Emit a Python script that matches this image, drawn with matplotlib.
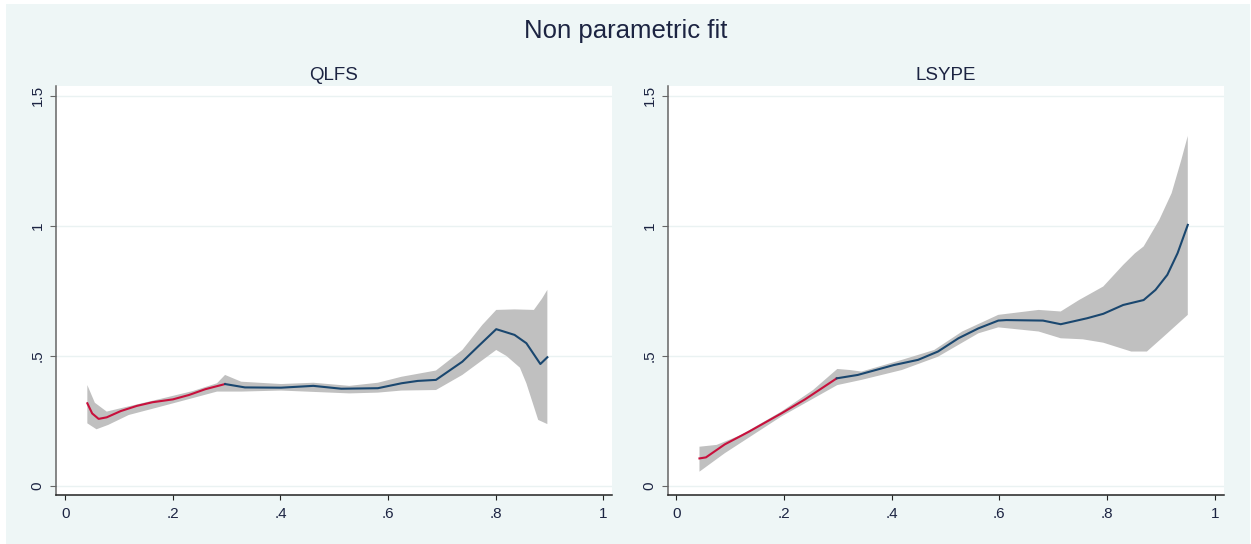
import numpy as np
import matplotlib
matplotlib.use("Agg")
import matplotlib.pyplot as plt
from matplotlib.patches import Rectangle

plt.rcParams['font.family'] = ['Liberation Sans', 'DejaVu Sans']

# QLFS panel
qlfs_x = [0.041, 0.050, 0.062, 0.077, 0.103, 0.133, 0.162, 0.200, 0.230, 0.260, 0.297,
          0.334, 0.401, 0.461, 0.513, 0.581, 0.625, 0.655, 0.689, 0.738, 0.767, 0.801,
          0.835, 0.857, 0.883, 0.896]
qlfs_y = [0.318, 0.279, 0.258, 0.264, 0.288, 0.308, 0.322, 0.333, 0.350, 0.372, 0.392,
          0.379, 0.378, 0.385, 0.374, 0.376, 0.395, 0.404, 0.408, 0.478, 0.536, 0.603,
          0.581, 0.549, 0.469, 0.495]
qlfs_hi_x = [0.041, 0.055, 0.077, 0.103, 0.177, 0.237, 0.282, 0.297, 0.327, 0.401, 0.461,
             0.528, 0.581, 0.625, 0.689, 0.738, 0.775, 0.801, 0.835, 0.871, 0.886, 0.896]
qlfs_hi_y = [0.388, 0.320, 0.286, 0.299, 0.335, 0.365, 0.395, 0.427, 0.401, 0.392, 0.397,
             0.385, 0.397, 0.420, 0.444, 0.523, 0.619, 0.677, 0.679, 0.677, 0.720, 0.754]
qlfs_lo_x = [0.041, 0.058, 0.080, 0.118, 0.177, 0.237, 0.282, 0.327, 0.401, 0.528, 0.581,
             0.625, 0.689, 0.738, 0.801, 0.820, 0.845, 0.857, 0.879, 0.896]
qlfs_lo_y = [0.241, 0.218, 0.235, 0.273, 0.305, 0.338, 0.363, 0.363, 0.367, 0.356, 0.359,
             0.367, 0.369, 0.427, 0.523, 0.500, 0.455, 0.395, 0.254, 0.238]

# LSYPE panel
lsype_x = [0.043, 0.055, 0.090, 0.135, 0.195, 0.239, 0.298, 0.337, 0.404, 0.449, 0.486,
           0.524, 0.561, 0.598, 0.613, 0.681, 0.714, 0.763, 0.793, 0.830, 0.868, 0.890,
           0.912, 0.931, 0.950]
lsype_y = [0.106, 0.110, 0.160, 0.209, 0.279, 0.333, 0.414, 0.427, 0.465, 0.485, 0.517,
           0.568, 0.606, 0.636, 0.638, 0.636, 0.622, 0.645, 0.662, 0.696, 0.715, 0.754,
           0.812, 0.895, 1.004]
lsype_hi_x = [0.043, 0.075, 0.120, 0.195, 0.254, 0.299, 0.322, 0.344, 0.419, 0.479, 0.531,
              0.598, 0.673, 0.714, 0.748, 0.793, 0.830, 0.852, 0.868, 0.897, 0.920, 0.938,
              0.950]
lsype_hi_y = [0.151, 0.158, 0.196, 0.286, 0.369, 0.450, 0.446, 0.440, 0.485, 0.523, 0.594,
              0.658, 0.677, 0.671, 0.715, 0.767, 0.850, 0.895, 0.921, 1.023, 1.126, 1.254,
              1.346]
lsype_lo_x = [0.043, 0.090, 0.195, 0.299, 0.344, 0.419, 0.486, 0.561, 0.598, 0.673, 0.714,
              0.755, 0.793, 0.845, 0.874, 0.905, 0.950]
lsype_lo_y = [0.055, 0.126, 0.267, 0.388, 0.408, 0.446, 0.497, 0.587, 0.610, 0.594, 0.568,
              0.564, 0.551, 0.517, 0.517, 0.574, 0.658]

split = 0.3
xticks = [0, 0.2, 0.4, 0.6, 0.8, 1]
xlabels = ['0', '.2', '.4', '.6', '.8', '1']
yticks = [0, 0.5, 1, 1.5]
ylabels = ['0', '.5', '1', '1.5']

bg = '#eef6f6'
red = '#c8103c'
navy = '#1a476f'
txt = '#1c2442'

W, H = 1251, 544
fig = plt.figure(figsize=(W / 100, H / 100), dpi=100)
fig.patch.set_facecolor('white')
fig.patches.append(Rectangle((6 / W, 0), 1244 / W, 540 / H, transform=fig.transFigure,
                             facecolor=bg, edgecolor='none', zorder=-10))

fig.text(0.5, 1 - 38 / H, 'Non parametric fit', ha='center', va='baseline',
         fontsize=18.5, color=txt)


def panel(left, xlim, title, x, y, hx, hy, lx, ly):
    ax = fig.add_axes([left / W, 1 - 494.7 / H, 556 / W, 408.7 / H])
    ax.set_facecolor('white')
    ax.set_xlim(*xlim)
    ax.set_ylim(-0.0335, 1.538)
    x = np.array(x)
    y = np.array(y)
    px = np.r_[hx, lx[::-1]]
    py = np.r_[hy, ly[::-1]]
    ax.fill(px, py, color='#c0c0c0', lw=0, zorder=2)
    k = np.searchsorted(x, split)
    ax.plot(x[:k], y[:k], color=red, lw=1.5, zorder=3)
    ax.plot(x[k - 1:], y[k - 1:], color=navy, lw=1.5, zorder=3)
    for v in yticks:
        ax.axhline(v, color='#eaf2f2', lw=1, zorder=1)
    for s in ['top', 'right']:
        ax.spines[s].set_visible(False)
    ax.spines['left'].set_color('#666666')
    ax.spines['bottom'].set_color('#222222')
    ax.spines['left'].set_linewidth(1.1)
    ax.spines['bottom'].set_linewidth(1.1)
    ax.set_xticks(xticks)
    ax.set_xticklabels(xlabels)
    ax.set_yticks(yticks)
    ax.set_yticklabels(ylabels)
    ax.tick_params(axis='x', length=3.5, width=0.8, color='#222222', pad=5,
                   labelsize=11, labelcolor=txt)
    ax.tick_params(axis='y', length=4, width=0.8, color='#666666', pad=4,
                   labelsize=11, labelcolor=txt)
    for lab in ax.get_yticklabels():
        lab.set_rotation(90)
        lab.set_va('center')
    cx = (left + left + 556) / 2 / W
    fig.text(cx, 1 - 80 / H, title, ha='center', va='baseline', fontsize=13.5, color=txt)
    return ax


panel(55.7, (-0.0178, 1.0156), 'QLFS', qlfs_x, qlfs_y, qlfs_hi_x, qlfs_hi_y,
      qlfs_lo_x, qlfs_lo_y)
panel(667.7, (-0.016, 1.0167), 'LSYPE', lsype_x, lsype_y, lsype_hi_x, lsype_hi_y,
      lsype_lo_x, lsype_lo_y)

fig.savefig('out.png', dpi=100, facecolor=fig.get_facecolor())
